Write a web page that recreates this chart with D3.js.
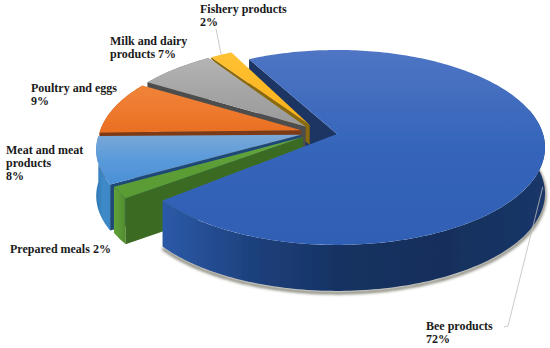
<!DOCTYPE html>
<html><head><meta charset="utf-8">
<script src="https://cdnjs.cloudflare.com/ajax/libs/d3/7.8.5/d3.min.js"></script>
<style>html,body{margin:0;padding:0;background:#fff}svg{display:block}
text{font-family:"Liberation Serif",serif;font-weight:700;font-size:12px;fill:#1a1a1a}</style>
</head><body><svg id="c" width="550" height="348"></svg>
<script>
const categories = ["Bee products","Prepared meals","Meat and meat products","Poultry and eggs","Milk and dairy products","Fishery products"];
const values = [72,2,8,9,7,2];
const labelLines = [["Bee products","72%"],["Prepared meals 2%"],["Meat and meat","products","8%"],["Poultry and eggs","9%"],["Milk and dairy","products 7%"],["Fishery products","2%"]];

// layout
const labelXY = [[426,330],[10,253],[6,154],[31,92],[110,45],[200,13]];
const radiusFactor = [1,0.97,0.98,0.98,0.98,0.98];
const spinDeg = [0,2.5,2.5,2,2,1.5];
const colors = [
 {top:["#4f75c4","#3565ba","#2f5fb4"],wall:["#2b5aa8","#1d3f7a","#15305f","#162f5c","#1a3769"],cut:"#1b3564"},
 {top:["#69a83f","#5b9c36","#5b9c36"],wall:["#5fa03a","#5a9835","#4f8a2d"],cut:"#3b6b20"},
 {top:["#7aa8d8","#5a9ada","#4a90d6"],wall:["#2f78b4","#3f8ac8","#3d88c6"],cut:"#1d4a78"},
 {top:["#f08438","#ee7a2e","#ea6f22"],wall:["#c05a18","#b85416","#b05014"],cut:"#7c3a12"},
 {top:["#b4b4b4","#a5a5a5","#9a9a9a"],wall:["#777","#777","#777"],cut:"#4e4e4e"},
 {top:["#ffc233","#fdb825","#f8b018"],wall:["#b98a10","#b98a10","#b98a10"],cut:"#8a6a08"}
];
const cx=337, cy=134, A=206, B=95.6, P=0.138, DEPTH=46, EXPLODE=0.09;
const RAD=Math.PI/180, START=-28.6*RAD;

const arcs = d3.pie().value(d=>d).sort(null).startAngle(START).endAngle(START+2*Math.PI)(values)
  .map((a,i)=>{const s=spinDeg[i]*RAD;return {...a,startAngle:a.startAngle+s,endAngle:a.endAngle+s,k:radiusFactor[i]};});
const beeMid=(arcs[0].startAngle+arcs[0].endAngle)/2;
// true pie centre in plane units: bee's apex sits at (0,0)
const cu=-EXPLODE*Math.sin(beeMid), cv=EXPLODE*Math.cos(beeMid);

const sx=d3.scaleLinear().domain([0,1]).range([0,A]);
const sy=d3.scaleLinear().domain([0,1]).range([0,B]);
function project(u,v,drop=0){const w=1-P*v;return [cx+sx(u)/w, cy+sy(v)/w+drop];}
function centre(a){const m=(a.startAngle+a.endAngle)/2;return [cu+EXPLODE*Math.sin(m), cv-EXPLODE*Math.cos(m)];}
function rim(a,t,drop=0){const [u0,v0]=centre(a);return project(u0+a.k*Math.sin(t),v0-a.k*Math.cos(t),drop);}
function arcPts(a,drop=0,from=a.startAngle){
  const n=Math.max(6,Math.ceil((a.endAngle-from)/0.02));
  return d3.range(n+1).map(i=>rim(a,from+(a.endAngle-from)*i/n,drop));
}
const line=d3.line();
const svg=d3.select("#c"), defs=svg.append("defs");

defs.append("filter").attr("id","soft").attr("x","-5%").attr("y","-5%").attr("width","110%").attr("height","110%")
  .append("feGaussianBlur").attr("stdDeviation",0.45);
defs.append("filter").attr("id","shadow").attr("x","-10%").attr("y","-10%").attr("width","120%").attr("height","130%")
  .append("feGaussianBlur").attr("stdDeviation",1.6);

colors.forEach((c,i)=>{
  const t=defs.append("linearGradient").attr("id","top"+i).attr("x1",0).attr("y1",0).attr("x2",0).attr("y2",1);
  c.top.forEach((s,k)=>t.append("stop").attr("offset",k/(c.top.length-1)).attr("stop-color",s));
  const w=defs.append("linearGradient").attr("id","wall"+i).attr("x1",0).attr("y1",0).attr("x2",1).attr("y2",0);
  c.wall.forEach((s,k)=>w.append("stop").attr("offset",k/(c.wall.length-1)).attr("stop-color",s));
});

const g=svg.append("g").attr("filter","url(#soft)");

function cutWall(a,i,t,rimDepth=DEPTH,apexDepth=DEPTH){
  const [u0,v0]=centre(a), p=project(u0,v0), r=rim(a,t);
  g.append("path").attr("d",line([p,r,[r[0],r[1]+rimDepth],[p[0],p[1]+apexDepth]])+"Z").attr("fill",colors[i].cut);
}
function outerWall(a,i,from=a.startAngle){
  const top=arcPts(a,0,from), bot=arcPts(a,DEPTH,from).reverse();
  g.append("path").attr("d",line(top.concat(bot))+"Z").attr("fill",`url(#wall${i})`);
}
function topFace(a,i){
  const [u0,v0]=centre(a);
  g.append("path").attr("d",line([project(u0,v0)].concat(arcPts(a)))+"Z").attr("fill",`url(#top${i})`);
}

// bee shadow under the rim
const bee=arcs[0];
g.append("path").attr("d",line(arcPts(bee,DEPTH+2,75*RAD))).attr("fill","none").attr("stroke","#6b6b5c").attr("stroke-width",2.5).attr("filter","url(#shadow)");

// back wall of the bee slice goes behind everything else
cutWall(bee,0,bee.startAngle);
// fishery wall is almost hidden: only a thin strip and a short bar at the apex show
cutWall(arcs[5],5,arcs[5].startAngle,2,20);
topFace(arcs[5],5);
[4,3,2,1].forEach(i=>{
  const a=arcs[i];
  outerWall(a,i);
  cutWall(a,i,a.startAngle);
  topFace(a,i);
});
outerWall(bee,0,75*RAD);
topFace(bee,0);

// leader lines
const leader=d3.line();
const beeTip=rim(bee,bee.startAngle+(bee.endAngle-bee.startAngle)*0.52,DEPTH*0.55);
svg.append("path").attr("d",leader([[504,327],[508,326],beeTip])).attr("fill","none").attr("stroke","#bdbdbd").attr("stroke-width",0.8);
const f=arcs[5], fTip=rim(f,(f.startAngle+f.endAngle)/2);
svg.append("path").attr("d",leader([[216,29],fTip])).attr("fill","none").attr("stroke","#bdbdbd").attr("stroke-width",0.8);

// labels
categories.forEach((c,i)=>{
  const t=svg.append("text").attr("x",labelXY[i][0]).attr("y",labelXY[i][1]);
  labelLines[i].forEach((s,k)=>t.append("tspan").attr("x",labelXY[i][0]).attr("dy",k?13.2:0).text(s));
});
</script></body></html>
